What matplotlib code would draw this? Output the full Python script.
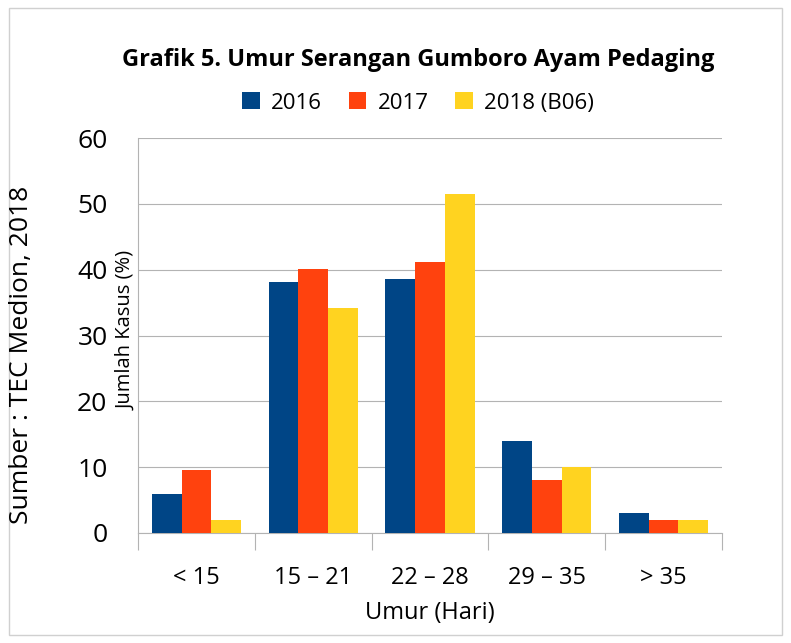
import matplotlib
matplotlib.use("Agg")
import matplotlib.pyplot as plt
import numpy as np

categories = ["< 15", "15 – 21", "22 – 28", "29 – 35", "> 35"]
series_names = ["2016", "2017", "2018 (B06)"]
v2016 = [5.9, 38.1, 38.6, 14.0, 3.0]
v2017 = [9.5, 40.1, 41.1, 8.0, 2.0]
v2018 = [2.0, 34.2, 51.5, 10.0, 2.0]
colors = ["#004586", "#ff420e", "#ffd320"]

plt.rcParams["font.family"] = "Open Sans"
fig = plt.figure(figsize=(7.91, 6.43), dpi=100)
ax = fig.add_axes([138/791, 1-533/643, (722-138)/791, (533-138)/643])
x = np.arange(len(categories))
w = 0.255
for i, (vals, c, n) in enumerate(zip([v2016, v2017, v2018], colors, series_names)):
    ax.bar(x + (i-1)*w, vals, w, color=c, label=n, zorder=3)
ax.set_xlim(-0.5, 4.5)
ax.set_ylim(0, 60)
ax.set_yticks(range(0, 61, 10))
ax.yaxis.grid(True, color="#b3b3b3", lw=0.8, zorder=0)
ax.tick_params(axis="y", labelsize=19, length=0, pad=22)
ax.set_xticks(np.arange(-0.5, 5, 1))
ax.set_xticklabels([])
ax.set_xticks(x, minor=True)
ax.set_xticklabels(categories, minor=True, fontsize=17)
ax.tick_params(axis="x", which="major", length=12, color="#b3b3b3")
ax.tick_params(axis="x", which="minor", length=0, pad=24)
for s in ["top", "right"]:
    ax.spines[s].set_visible(False)
for s in ["left", "bottom"]:
    ax.spines[s].set_color("#b3b3b3")
ax.set_xlabel("Umur (Hari)", fontsize=17, labelpad=8)
fig.text(126/791, 1-330/643, "Jumlah Kasus (%)", rotation=90, fontsize=14.5, ha="center", va="center")
fig.text(22/791, 1-355/643, "Sumber : TEC Medion, 2018", rotation=90, fontsize=19, ha="center", va="center")
fig.text(418/791, 1-60/643, "Grafik 5. Umur Serangan Gumboro Ayam Pedaging", fontsize=17, fontweight="bold", ha="center", va="center")
fig.legend(loc="center", bbox_to_anchor=(418/791, 1-103/643), ncol=3, frameon=False, fontsize=16,
           handlelength=0.8, handleheight=0.8, columnspacing=1.2, handletextpad=0.5)
fig.patches.append(plt.Rectangle((0.012, 0.012), 0.976, 0.976, transform=fig.transFigure, fill=False, ec="#d0d0d0", lw=1))
fig.savefig("out.png", dpi=100)
